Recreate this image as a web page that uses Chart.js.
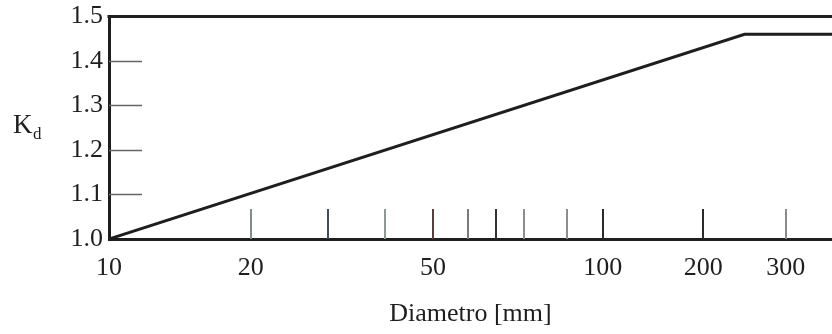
<!DOCTYPE html>
<html>
<head>
<meta charset="utf-8">
<script src="https://cdn.jsdelivr.net/npm/chart.js@4.4.0/dist/chart.umd.min.js"></script>
<style>
  html, body { margin: 0; padding: 0; background: #fff; }
  canvas { display: block; }
</style>
</head>
<body>
<canvas id="kd" width="832" height="334"></canvas>
<script>
// Kd against shaft diameter
var diameter = [10, 250, 350];
var kd = [1.0, 1.46, 1.46];

var xTicks = [10, 20, 30, 40, 50, 60, 70, 80, 90, 100, 200, 300];
var xLabels = [10, 20, 50, 100, 200, 300];
var yTicks = [1.0, 1.1, 1.2, 1.3, 1.4, 1.5];

// The printed diameter axis is neither linear nor logarithmic,
// so each stop says where a diameter falls along the axis (0..1).
var AXIS_STOPS = [
  [10, 0], [20, 0.196], [30, 0.303], [40, 0.382], [50, 0.448],
  [60, 0.497], [70, 0.535], [80, 0.574], [90, 0.634], [100, 0.683],
  [200, 0.822], [300, 0.936], [350, 1]
];

function interp(v, from, to) {
  var s = AXIS_STOPS;
  if (v <= s[0][from]) return s[0][to];
  for (var i = 1; i < s.length; i++) {
    if (v <= s[i][from]) {
      var t = (v - s[i - 1][from]) / (s[i][from] - s[i - 1][from]);
      return s[i - 1][to] + t * (s[i][to] - s[i - 1][to]);
    }
  }
  return s[s.length - 1][to];
}

class PrintedScale extends Chart.LinearScale {
  buildTicks() {
    return xTicks.map(function(v) { return { value: v } });
  }
  getPixelForValue(value) {
    return this.getPixelForDecimal(interp(value, 0, 1));
  }
  getValueForPixel(pixel) {
    return interp(this.getDecimalForPixel(pixel), 1, 0);
  }
}
PrintedScale.id = 'printed';
PrintedScale.defaults = Chart.LinearScale.defaults;
Chart.register(PrintedScale);

var ink = '#1e1e1e';
var serif = '"Liberation Serif", "Times New Roman", serif';
var markColors = [null, '#7f8f86', '#3d4f5c', '#8c9a90', '#5a3e3e', '#7a7a7a',
  '#2f3436', '#8a8f8c', '#8a8f8c', '#2a2a2a', '#2a2a2a', '#8a8a8a'];

// inner tick marks, top rule and the K_d label
var frame = {
  id: 'frame',
  afterDatasetsDraw: function(chart) {
    var ctx = chart.ctx, a = chart.chartArea;
    var xs = chart.scales.x, ys = chart.scales.y;
    ctx.save();
    ctx.lineWidth = 2;
    xTicks.forEach(function(v, i) {
      if (!markColors[i]) return;
      var px = Math.round(xs.getPixelForValue(v));
      ctx.strokeStyle = markColors[i];
      ctx.beginPath();
      ctx.moveTo(px, a.bottom);
      ctx.lineTo(px, a.bottom - 30);
      ctx.stroke();
    });
    ctx.lineWidth = 1.5;
    ctx.strokeStyle = '#666';
    yTicks.slice(1, -1).forEach(function(v) {
      var py = Math.round(ys.getPixelForValue(v)) + 0.5;
      ctx.beginPath();
      ctx.moveTo(a.left, py);
      ctx.lineTo(a.left + 33, py);
      ctx.stroke();
    });
    ctx.lineWidth = 3;
    ctx.strokeStyle = ink;
    ctx.beginPath();
    ctx.moveTo(a.left - 1.5, a.top);
    ctx.lineTo(a.right, a.top);
    ctx.stroke();

    ctx.fillStyle = ink;
    ctx.textBaseline = 'alphabetic';
    ctx.font = '27px ' + serif;
    ctx.fillText('K', 13, 133);
    ctx.font = '17px ' + serif;
    ctx.fillText('d', 33, 139);
    ctx.restore();
  }
};

var ctx = document.getElementById('kd').getContext('2d');
var chart = new Chart(ctx, {
  type: 'line',
  data: {
    datasets: [{
      data: diameter.map(function(d, i) { return { x: d, y: kd[i] } }),
      borderColor: ink,
      borderWidth: 3,
      pointRadius: 0,
      tension: 0,
      fill: false
    }]
  },
  options: {
    responsive: false,
    animation: false,
    layout: { padding: { top: 15, right: 0, left: 0, bottom: 0 } },
    plugins: {
      legend: { display: false },
      tooltip: { enabled: false }
    },
    scales: {
      x: {
        type: 'printed',
        min: 10,
        max: 350,
        afterFit: function(s) { s.height = 95 },
        grid: { display: false, drawTicks: false },
        border: { display: true, color: ink, width: 3 },
        ticks: {
          autoSkip: false,
          maxRotation: 0,
          padding: 16,
          color: ink,
          font: { family: serif, size: 26, lineHeight: 1 },
          callback: function(v) { return xLabels.indexOf(v) >= 0 ? String(v) : '' }
        },
        title: {
          display: true,
          text: 'Diametro [mm]',
          color: ink,
          font: { family: serif, size: 26, lineHeight: 1 },
          padding: { top: 0, bottom: 7 }
        }
      },
      y: {
        min: 1.0,
        max: 1.5,
        afterFit: function(s) { s.width = 109 },
        afterBuildTicks: function(s) {
          s.ticks = yTicks.map(function(v) { return { value: v } });
        },
        grid: { display: false, drawTicks: false },
        border: { display: true, color: ink, width: 3 },
        ticks: {
          padding: 6,
          color: ink,
          font: { family: serif, size: 26, lineHeight: 0.8 },
          callback: function(v) { return v.toFixed(1) }
        }
      }
    }
  },
  plugins: [frame]
});
</script>
</body>
</html>
